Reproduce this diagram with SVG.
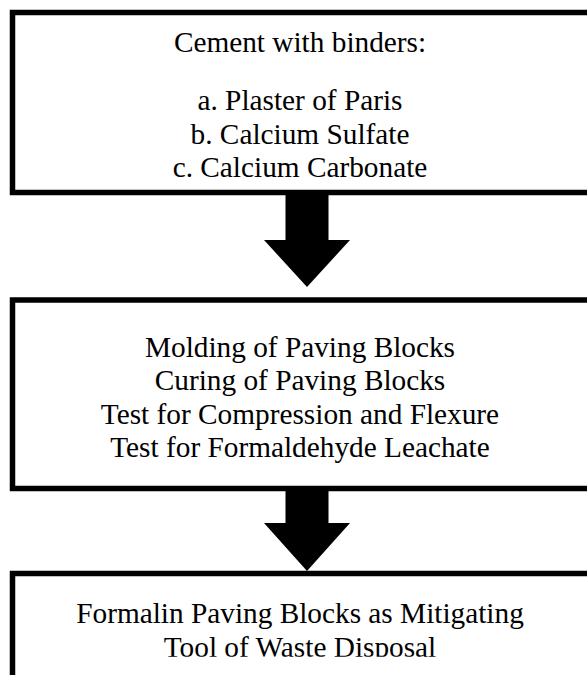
<svg xmlns="http://www.w3.org/2000/svg" width="587" height="675" viewBox="0 0 587 675">
  <style>
    .box { fill: #ffffff; stroke: #000000; stroke-width: 5.5; }
    .txt { font-family: "Liberation Serif", "Times New Roman", serif; font-size: 29.3px; fill: #000000; text-anchor: middle; }
    .arrow { fill: #000000; stroke: none; }
  </style>
  <defs>
    <clipPath id="clipBottom">
      <rect x="0" y="0" width="587" height="656.7"/>
    </clipPath>
  </defs>
  <rect x="0" y="0" width="587" height="675" fill="#ffffff"/>
  <g id="node-binders">
    <rect class="box" x="12.5" y="12.5" width="590" height="180"/>
    <text class="txt" x="300" y="52">Cement with binders:</text>
    <text class="txt" x="300" y="110">a. Plaster of Paris</text>
    <text class="txt" x="300" y="143.5">b. Calcium Sulfate</text>
    <text class="txt" x="300" y="177">c. Calcium Carbonate</text>
  </g>
  <g id="node-process">
    <rect class="box" x="12.5" y="300" width="590" height="188.5"/>
    <text class="txt" x="300" y="357">Molding of Paving Blocks</text>
    <text class="txt" x="300" y="390">Curing of Paving Blocks</text>
    <text class="txt" x="300" y="423.5">Test for Compression and Flexure</text>
    <text class="txt" x="300" y="457">Test for Formaldehyde Leachate</text>
  </g>
  <g id="node-result">
    <rect class="box" x="12.5" y="573.5" width="590" height="200"/>
    <g clip-path="url(#clipBottom)">
      <text class="txt" x="300" y="622.5">Formalin Paving Blocks as Mitigating</text>
      <text class="txt" x="300" y="657">Tool of Waste Disposal</text>
    </g>
  </g>
  <g id="connectors">
    <polygon class="arrow" points="285.5,195 328.5,195 328.5,240 350,240 307,287 264,240 285.5,240"/>
    <polygon class="arrow" points="285.5,491 328.5,491 328.5,523 350,523 307,571 264,523 285.5,523"/>
  </g>
</svg>
